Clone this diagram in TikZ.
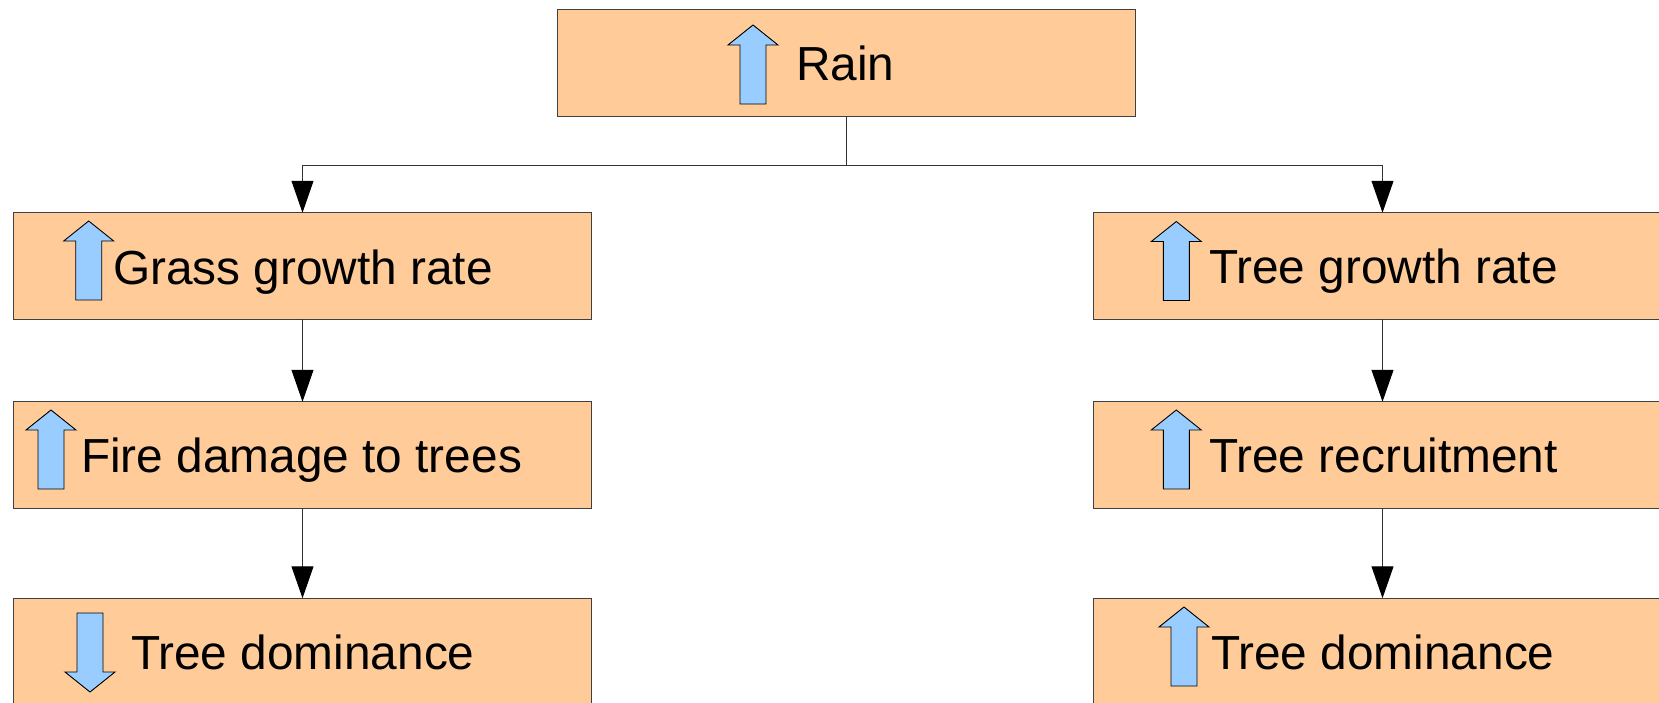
\documentclass[tikz,border=0pt]{standalone}
\usepackage{fontspec}
\setmainfont{Liberation Sans}
\usetikzlibrary{arrows.meta}
\definecolor{boxfill}{HTML}{FFCC99}
\definecolor{arrfill}{HTML}{99CCFF}
\tikzset{
  box/.style={draw=black!75, fill=boxfill, line width=1pt, minimum width=578pt, minimum height=106.5pt, inner sep=0pt, outer sep=0pt},
  lbl/.style={anchor=base west, inner sep=0pt, outer sep=0pt, font=\fontsize{47.8}{56}\selectfont},
  conn/.style={draw=black!80, line width=1pt},
  connarr/.style={conn, -{Triangle[length=32pt,width=22pt,color=black,fill=black]}},
  barrow/.style={draw=black, fill=arrfill, line width=0.9pt, line join=miter},
  uparr/.pic={\path[barrow] (0,0) -- (25,20) -- (13,20) -- (13,79) -- (-13,79) -- (-13,20) -- (-25,20) -- cycle;},
  downarr/.pic={\path[barrow] (0,0) -- (25,-20) -- (13,-20) -- (13,-79) -- (-13,-79) -- (-13,-20) -- (-25,-20) -- cycle;}
}
\begin{document}
\begin{tikzpicture}[x=1pt,y=-1pt]
\useasboundingbox (0,0) rectangle (1659,702);
% boxes
\node[box] (rain) at (846,62.75) {};
\node[box] (grass) at (302.5,266) {};
\node[box] (fire) at (302.5,455) {};
\node[box] (ldom) at (302.5,651.5) {};
\node[box] (tgrow) at (1382.5,266) {};
\node[box] (trec) at (1382.5,455) {};
\node[box] (rdom) at (1382.5,651.5) {};
% labels
\node[lbl] (rainl) at (796,80) {Rain};
\node[lbl] (grassl) at (113,284) {Grass growth rate};
\node[lbl] (firel) at (81,472) {Fire damage to trees};
\node[lbl] (ldoml) at (131,669) {Tree dominance};
\node[lbl] (tgrowl) at (1209,283) {Tree growth rate};
\node[lbl] (trecl) at (1209,472) {Tree recruitment};
\node[lbl] (rdoml) at (1211,669) {Tree dominance};
% blue arrows
\pic (a1) at (753,25) {uparr};
\pic (a2) at (88.7,221) {uparr};
\pic (a3) at (51,410) {uparr};
\pic (a4) at (90,692) {downarr};
\pic (a5) at (1176.3,221.5) {uparr};
\pic (a6) at (1176.3,410) {uparr};
\pic (a7) at (1184,607) {uparr};
% connectors
\coordinate (bus) at (846,165);
\draw[conn] (rain.south) -- (bus);
\draw[connarr] (bus) -| (grass.north);
\draw[connarr] (bus) -| (tgrow.north);
\draw[connarr] (grass.south) -- (fire.north);
\draw[connarr] (fire.south) -- (ldom.north);
\draw[connarr] (tgrow.south) -- (trec.north);
\draw[connarr] (trec.south) -- (rdom.north);
\end{tikzpicture}
\end{document}
